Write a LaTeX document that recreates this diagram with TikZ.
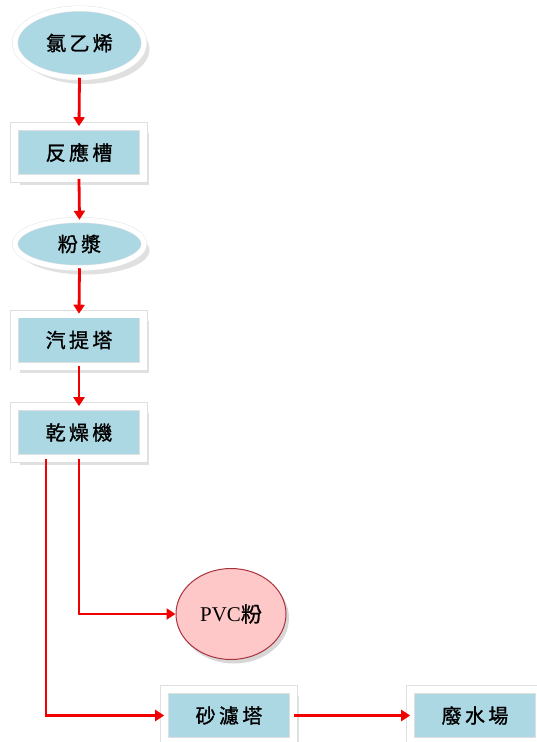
\documentclass[tikz,border=0pt]{standalone}
\usepackage{fontspec}
\setmainfont{Liberation Serif}
\newfontfamily\cjk[FakeBold=1.2]{Noto Sans CJK TC}
\usetikzlibrary{shapes.geometric,shadows,arrows.meta}
\definecolor{boxblue}{RGB}{172,216,228}
\definecolor{pvcpink}{RGB}{255,200,200}
\definecolor{pvcborder}{RGB}{170,50,60}
\definecolor{flowred}{RGB}{240,0,0}
\begin{document}
\begin{tikzpicture}[x=1pt,y=-1pt,
  shade/.style={drop shadow={shadow xshift=5.5pt, shadow yshift=-6.5pt, opacity=0.35, fill=gray!70}},
  shadepvc/.style={drop shadow={shadow xshift=3pt, shadow yshift=-4pt, opacity=0.45, fill=gray!70}},
  lbl/.style={font=\cjk\fontsize{20}{20}\selectfont, text=black},
  framebox/.style={lbl, rectangle, fill=boxblue, draw=gray!25, double=white, double distance=7pt, line width=0.6pt,
     minimum width=129pt, minimum height=52pt, inner sep=0pt, shade},
  frameell/.style={lbl, ellipse, fill=boxblue, draw=gray!20, double=white, double distance=5pt, line width=0.5pt,
     minimum width=129pt, inner sep=0pt, shade},
  pvcell/.style={ellipse, fill=pvcpink, draw=pvcborder, line width=1pt, minimum width=110pt, minimum height=91pt,
     inner sep=0pt, font=\fontsize{21}{21}\selectfont, shadepvc},
  flow/.style={draw=flowred, line width=2.8pt, -{Triangle[length=9pt,width=11pt]}}
]
\useasboundingbox (0,0) rectangle (537,742);
\node[frameell, minimum height=69pt] (vcm) at (79.5,43) {氯\,乙\,烯};
\node[framebox] (reactor) at (79,152.5) {反\,應\,槽};
\node[frameell, minimum height=48pt] (slurry) at (79.5,244) {粉\,漿};
\node[framebox] (stripper) at (79,340) {汽\,提\,塔};
\node[framebox] (dryer) at (79,432.5) {乾\,燥\,機};
\node[pvcell] (pvc) at (231,614) {PVC{\cjk 粉}};
\node[framebox] (sand) at (229,715.5) {砂\,濾\,塔};
\node[framebox] (waste) at (475,715.5) {廢\,水\,場};

\draw[flow] (vcm.south) -- (reactor.north);
\draw[flow] (reactor.south) -- (slurry.north);
\draw[flow] (slurry.south) -- (stripper.north);
\draw[flow] (stripper.south) -- (dryer.north);
\draw[flow] (dryer.south) |- (pvc.west);
\draw[flow] ([xshift=-33pt]dryer.south) |- (sand.west);
\draw[flow] (sand.east) -- (waste.west);
\end{tikzpicture}
\end{document}
